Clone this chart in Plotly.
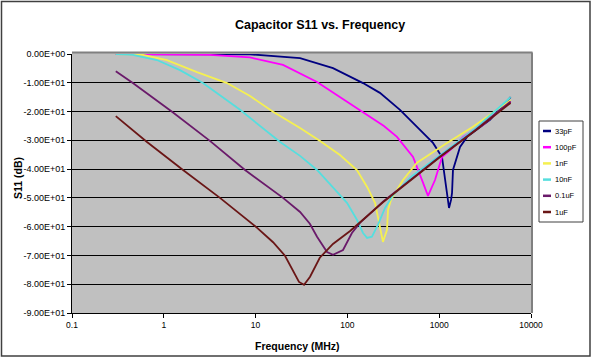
import plotly.graph_objects as go

# ---------------- data ----------------
names = ["33pF", "100pF", "1nF", "10nF", "0.1uF", "1uF"]
colors = ["#000080", "#ff00ff", "#f5f050", "#55dede", "#6a1a6a", "#6a1616"]

f_33p = [0.3, 1, 3, 8.7, 30.5, 69.7, 148, 226, 374, 667, 856, 1073, 1157, 1216,
         1279, 1346, 1380, 1413, 1686, 2010, 3575, 6000]
s_33p = [0, 0, 0, -0.1, -1.4, -4.9, -10.1, -13.5, -19.4, -27.4, -30.9, -35.8, -42.7,
         -48.3, -53.5, -50.7, -48.3, -40.3, -32.3, -28.8, -22.9, -15.0]

f_100p = [0.3, 0.9, 3.18, 8.7, 19.9, 46.7, 83, 148, 250, 347, 519, 650, 755, 900,
          1073, 1380, 1820, 3000, 6000]
s_100p = [0, -0.1, -0.3, -1.2, -3.8, -9.7, -14.9, -20.1, -25.0, -28.8, -35.8, -43.8,
          -49.3, -43.8, -35.8, -32.8, -28.8, -24.6, -16.5]

f_1n = [0.3, 0.59, 1.08, 2.3, 4.88, 8.7, 15.5, 30.5, 50.4, 83, 127, 164, 200, 226,
        244, 270, 277, 298, 403, 573, 1216, 2333, 6000]
s_1n = [0, -0.3, -2.1, -6.3, -10.1, -14.6, -20.1, -25.7, -30.2, -35.1, -40.3, -46.2,
        -51.7, -60.1, -65.3, -61.1, -54.2, -50.7, -43.8, -37.8, -30.9, -25.3, -16.0]

f_10n = [0.3, 0.46, 0.84, 1.5, 2.67, 6.77, 18.5, 30.5, 46.7, 69.7, 99, 127, 148, 164,
         185, 215, 257, 314, 500, 1021, 2500, 6000]
s_10n = [0, -0.3, -2.1, -5.6, -10.1, -19.4, -30.6, -35.4, -40.3, -46.5, -51.7, -57.6,
         -62.2, -63.9, -63.5, -59.4, -53.5, -49.0, -42.5, -35.2, -25.8, -15.0]

f_01u = [0.3, 0.46, 1.23, 3.18, 7.67, 19.9, 30.5, 39, 46.7, 60, 69.7, 89.6, 112, 137,
         244, 1021, 2500, 6000]
s_01u = [-6.0, -10.1, -20.1, -30.2, -40.3, -50.0, -54.9, -59.0, -63.5, -68.8, -69.8,
         -68.1, -62.2, -58.7, -51.3, -35.6, -26.3, -16.5]

f_1u = [0.3, 0.656, 1.62, 4.09, 10.4, 15.5, 20.9, 26, 29.7, 33.7, 39.2, 50, 69.6, 107,
        244, 1021, 2500, 6000]
s_1u = [-21.6, -30.6, -40.3, -50.0, -60.4, -65.4, -70.1, -75.5, -79.2, -80.2, -77.4,
        -70.8, -66.0, -61.5, -51.5, -35.8, -26.5, -17.0]

freqs = [f_33p, f_100p, f_1n, f_10n, f_01u, f_1u]
s11s = [s_33p, s_100p, s_1n, s_10n, s_01u, s_1u]

x_tickvals = [0.1, 1, 10, 100, 1000, 10000]
x_ticktext = ["0.1", "1", "10", "100", "1000", "10000"]
y_tickvals = [0, -10, -20, -30, -40, -50, -60, -70, -80, -90]
y_ticktext = ["0.00E+00", "-1.00E+01", "-2.00E+01", "-3.00E+01", "-4.00E+01",
              "-5.00E+01", "-6.00E+01", "-7.00E+01", "-8.00E+01", "-9.00E+01"]

title = "Capacitor S11 vs. Frequency"
x_title = "Frequency (MHz)"
y_title = "S11 (dB)"

# ---------------- layout helpers ----------------
W, H = 593, 359
PL, PR, PT, PB = 72, 531, 54, 313  # plot area in pixels


def px(x):
    return (x - PL) / (PR - PL)


def py(y):
    return (PB - y) / (PB - PT)


FONT = "Liberation Sans, Arial, sans-serif"

fig = go.Figure()
for name, color, f, s in zip(names, colors, freqs, s11s):
    fig.add_trace(go.Scatter(x=f, y=s, mode="lines", name=name,
                             line=dict(color=color, width=1.8), showlegend=False))

shapes = []
annotations = []

# outer chart border
shapes.append(dict(type="rect", xref="paper", yref="paper",
                   x0=px(1.5), x1=px(590), y0=py(1.5), y1=py(356),
                   line=dict(color="#404040", width=1.5), layer="above"))
# plot area top/right border (gray)
shapes.append(dict(type="line", xref="paper", yref="paper",
                   x0=0, x1=px(532.5), y0=py(52.6), y1=py(52.6),
                   line=dict(color="#808080", width=2.2), layer="above"))
shapes.append(dict(type="line", xref="paper", yref="paper",
                   x0=px(532), x1=px(532), y0=0, y1=py(52.6),
                   line=dict(color="#808080", width=2), layer="above"))

# legend box
shapes.append(dict(type="rect", xref="paper", yref="paper",
                   x0=px(539), x1=px(583), y0=py(121), y1=py(222),
                   line=dict(color="#404040", width=1), fillcolor="white", layer="above"))
leg_y0, leg_dy = 131, 16.2
for i, (name, color) in enumerate(zip(names, colors)):
    yy = leg_y0 + i * leg_dy
    shapes.append(dict(type="line", xref="paper", yref="paper",
                       x0=px(543), x1=px(551), y0=py(yy), y1=py(yy),
                       line=dict(color=color, width=2.5), layer="above"))
    annotations.append(dict(xref="paper", yref="paper", x=px(553), y=py(yy),
                            text=name, showarrow=False, xanchor="left", yanchor="middle",
                            font=dict(family=FONT, size=7.5, color="black")))

annotations.append(dict(xref="paper", yref="paper", x=px(320), y=py(25), text=title,
                        showarrow=False, xanchor="center", yanchor="middle",
                        font=dict(family=FONT, size=12.5, color="black", weight="bold")))
annotations.append(dict(xref="paper", yref="paper", x=px(297), y=py(346), text=x_title,
                        showarrow=False, xanchor="center", yanchor="middle",
                        font=dict(family=FONT, size=10.5, color="black", weight="bold")))
annotations.append(dict(xref="paper", yref="paper", x=px(18), y=py(178), text=y_title,
                        showarrow=False, xanchor="center", yanchor="middle", textangle=-90,
                        font=dict(family=FONT, size=10.5, color="black", weight="bold")))

fig.update_layout(
    width=W, height=H,
    margin=dict(l=PL, r=W - PR, t=PT, b=H - PB, pad=0),
    paper_bgcolor="white", plot_bgcolor="#c0c0c0",
    font=dict(family=FONT, color="black"),
    showlegend=False,
    shapes=shapes, annotations=annotations,
)
fig.update_xaxes(type="log", range=[-1, 4], tickvals=x_tickvals, ticktext=x_ticktext,
                 showgrid=False, zeroline=False, showline=True, linecolor="black",
                 linewidth=1, ticks="outside", ticklen=4, tickcolor="black",
                 tickfont=dict(family=FONT, size=8.5, color="black"))
fig.update_yaxes(range=[-90, 0], tickvals=y_tickvals, ticktext=y_ticktext,
                 showgrid=True, gridcolor="black", gridwidth=1, zeroline=False,
                 showline=True, linecolor="black", linewidth=1, ticks="outside",
                 ticklen=4, tickcolor="black",
                 tickfont=dict(family=FONT, size=9, color="black"))

fig.write_html("out.html", config={"displayModeBar": False},
               post_script="document.body.style.margin='0';document.body.style.overflow='hidden';")
